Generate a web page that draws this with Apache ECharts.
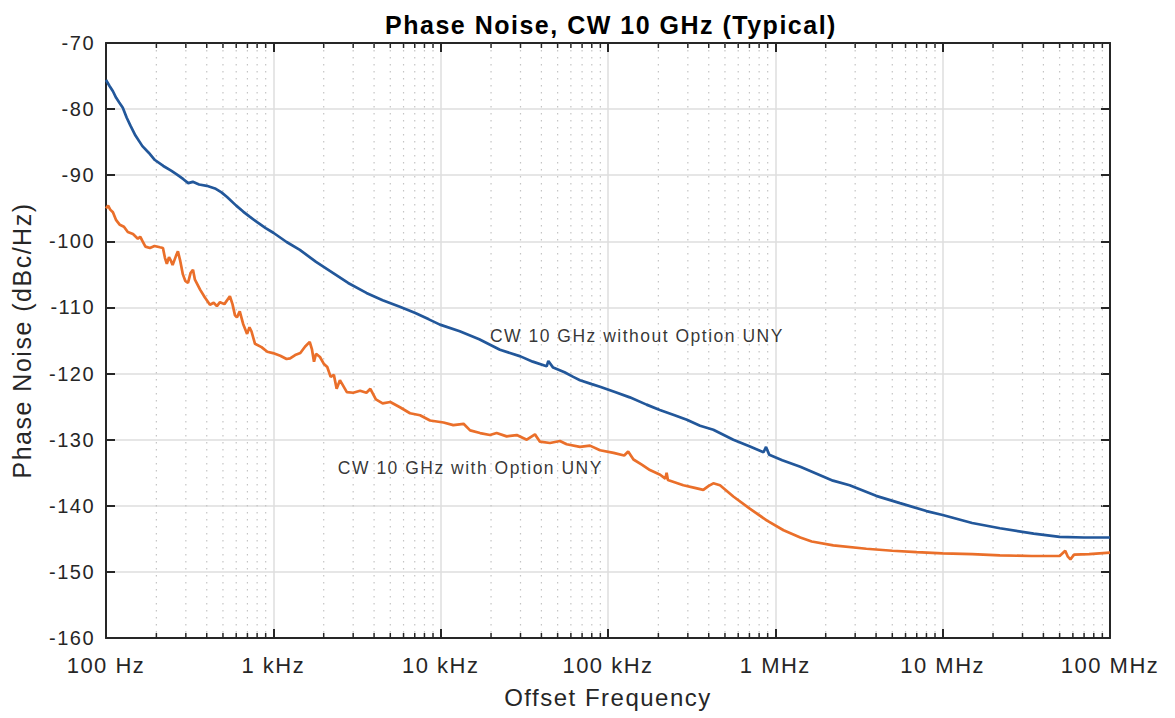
<!DOCTYPE html>
<html>
<head>
<meta charset="utf-8">
<title>Phase Noise, CW 10 GHz</title>
<script src="https://cdn.jsdelivr.net/npm/echarts@6/dist/echarts.min.js"></script>
<style>
  html, body { margin: 0; padding: 0; background: #fff; }
  #chart { width: 1175px; height: 718px; }
  #chart svg text { letter-spacing: 1.5px; }
</style>
</head>
<body>
<div id="chart"></div>
<script>
// offset frequency (Hz) and phase noise (dBc/Hz)
const freqNoUny = [100, 105, 110, 115, 120, 126, 133, 140, 150, 165, 180, 196, 220, 245, 266, 290, 310, 330, 360, 400, 448, 490, 529, 600, 660, 725, 800, 900, 1000, 1200, 1440, 1800, 2280, 2800, 3600, 4500, 5700, 7000, 8500, 9900, 13000, 17000, 22600, 30000, 35500, 43000, 44000, 47000, 55000, 62000, 68000, 80000, 89600, 110000, 135000, 170000, 204000, 250000, 296000, 355000, 426000, 561000, 700000, 850000, 880000, 920000, 1100000, 1410000, 2210000, 2780000, 4000000, 5560000, 8000000, 10000000, 15000000, 22000000, 35000000, 50000000, 70000000, 100000000];
const noiseNoUny = [-75.6, -76.5, -77.3, -78.3, -79.0, -79.8, -81.3, -82.5, -84.0, -85.6, -86.6, -87.7, -88.6, -89.3, -89.9, -90.6, -91.2, -91.0, -91.4, -91.6, -92.0, -92.6, -93.3, -94.6, -95.5, -96.3, -97.1, -98.0, -98.7, -100.1, -101.3, -103.1, -104.8, -106.3, -107.8, -108.9, -109.9, -110.8, -111.8, -112.6, -113.6, -114.8, -116.4, -117.4, -118.2, -118.9, -118.1, -119.1, -119.8, -120.5, -121.0, -121.6, -122.0, -122.8, -123.6, -124.7, -125.5, -126.3, -127.0, -127.9, -128.5, -130.0, -131.0, -131.9, -131.1, -132.3, -133.1, -134.1, -136.2, -136.9, -138.5, -139.6, -140.8, -141.4, -142.6, -143.4, -144.2, -144.7, -144.8, -144.8];

const freqUny = [100, 103, 106, 110, 115, 121, 128, 135, 145, 155, 160, 164, 172, 183, 195, 210, 219, 225, 231, 238, 245, 250, 262, 269, 278, 288, 298, 309, 320, 331, 340, 365, 390, 418, 440, 460, 480, 510, 550, 570, 590, 606, 630, 660, 697, 720, 740, 777, 850, 920, 995, 1100, 1200, 1260, 1350, 1450, 1550, 1650, 1700, 1750, 1800, 1900, 2000, 2100, 2200, 2300, 2390, 2500, 2750, 3000, 3300, 3600, 3800, 4100, 4500, 5000, 5710, 6560, 7530, 8640, 10400, 11900, 13700, 15000, 17200, 19700, 21600, 24800, 28500, 32700, 36600, 39200, 45000, 51600, 56600, 68000, 78000, 89600, 108000, 125000, 132000, 142000, 160000, 178000, 205000, 220000, 224000, 228000, 282000, 330000, 371000, 400000, 426000, 467000, 561000, 700000, 887000, 1120000, 1410000, 1650000, 2220000, 3500000, 5000000, 7000000, 10000000, 15000000, 22000000, 34000000, 50000000, 54000000, 56000000, 58000000, 61000000, 75000000, 100000000];
const noiseUny = [-95.0, -94.6, -95.2, -95.6, -96.8, -97.5, -97.8, -98.6, -98.9, -99.6, -99.3, -99.8, -100.8, -101.0, -100.7, -100.9, -101.0, -102.5, -103.4, -102.4, -103.0, -103.6, -102.2, -101.5, -103.0, -105.0, -106.0, -106.3, -104.8, -104.3, -105.8, -107.3, -108.5, -109.6, -109.3, -109.8, -109.2, -109.5, -108.3, -109.5, -111.2, -111.5, -110.6, -112.5, -114.0, -113.0, -113.6, -115.5, -116.0, -116.7, -116.9, -117.3, -117.8, -117.7, -117.2, -116.9, -115.9, -115.2, -116.3, -118.2, -117.0, -117.5, -118.5, -119.0, -120.5, -120.2, -122.3, -121.0, -122.8, -122.9, -122.6, -122.9, -122.3, -123.9, -124.5, -124.3, -125.1, -126.0, -126.3, -127.1, -127.4, -127.8, -127.6, -128.6, -129.0, -129.3, -129.0, -129.5, -129.3, -130.0, -129.2, -130.3, -130.5, -130.2, -130.7, -131.1, -130.9, -131.6, -132.0, -132.4, -131.8, -133.0, -133.8, -134.6, -135.3, -135.9, -135.0, -136.1, -136.9, -137.3, -137.6, -137.0, -136.6, -136.9, -138.6, -140.4, -142.2, -143.7, -144.8, -145.4, -146.0, -146.5, -146.8, -147.0, -147.2, -147.3, -147.5, -147.6, -147.6, -146.8, -147.7, -148.1, -147.4, -147.3, -147.1];

const decadeLabels = { 100: '100 Hz', 1000: '1 kHz', 10000: '10 kHz', 100000: '100 kHz', 1000000: '1 MHz', 10000000: '10 MHz', 100000000: '100 MHz' };

// curve annotations: [freq, dB, text]
const notes = [
  [19700, -114.3, 'CW 10 GHz without Option UNY'],
  [2430, -134.3, 'CW 10 GHz with Option UNY']
];

// minor log grid positions 2..9 per decade
const minorFreqs = [];
for (let d = 100; d < 1e8; d *= 10) {
  for (let k = 2; k <= 9; k++) minorFreqs.push([k * d]);
}

const chart = echarts.init(document.getElementById('chart'), null, { renderer: 'svg' });
const font = 'Liberation Sans, Arial, Helvetica, sans-serif';
const axisColor = '#262626';

chart.setOption({
  animation: false,
  title: {
    text: 'Phase Noise, CW 10 GHz (Typical)',
    left: 606, top: 7, textAlign: 'center',
    textStyle: { fontFamily: font, fontSize: 25, fontWeight: 'bold', color: '#000' }
  },
  grid: { left: 106, right: 65, top: 43, bottom: 80 },
  xAxis: [{
    type: 'log', logBase: 10, min: 100, max: 1e8, position: 'bottom',
    name: 'Offset Frequency', nameLocation: 'middle', nameGap: 47,
    nameTextStyle: { fontFamily: font, fontSize: 24, color: axisColor },
    axisLine: { lineStyle: { color: axisColor, width: 2 } },
    axisTick: { inside: true, length: 9, lineStyle: { color: axisColor, width: 2 } },
    axisLabel: { fontFamily: font, fontSize: 22, color: axisColor, margin: 16,
      formatter: v => decadeLabels[Math.round(v)] || '' },
    splitLine: { show: true, lineStyle: { color: '#dedede', width: 1.5 } }
  }, {
    type: 'log', logBase: 10, min: 100, max: 1e8, position: 'top',
    axisLine: { lineStyle: { color: axisColor, width: 2 } },
    axisTick: { inside: true, length: 9, lineStyle: { color: axisColor, width: 2 } },
    axisLabel: { show: false }, splitLine: { show: false }
  }],
  yAxis: [{
    type: 'value', min: -160, max: -70, interval: 10, position: 'left',
    name: 'Phase Noise (dBc/Hz)', nameLocation: 'middle', nameGap: 72,
    nameTextStyle: { fontFamily: font, fontSize: 25, color: axisColor },
    axisLine: { show: true, lineStyle: { color: axisColor, width: 2 } },
    axisTick: { show: true, inside: true, length: 9, lineStyle: { color: axisColor, width: 2 } },
    axisLabel: { fontFamily: font, fontSize: 20, color: axisColor, margin: 11 },
    splitLine: { show: true, lineStyle: { color: '#dedede', width: 1.5 } }
  }, {
    type: 'value', min: -160, max: -70, interval: 10, position: 'right',
    axisLine: { show: true, lineStyle: { color: axisColor, width: 2 } },
    axisTick: { show: true, inside: true, length: 9, lineStyle: { color: axisColor, width: 2 } },
    axisLabel: { show: false }, splitLine: { show: false }
  }],
  series: [{
    type: 'custom', silent: true, z: 1,
    data: minorFreqs,
    encode: { x: 0 },
    renderItem: (params, api) => {
      const top = api.coord([api.value(0), -70]);
      const bot = api.coord([api.value(0), -160]);
      return {
        type: 'group',
        children: [{
          type: 'line',
          shape: { x1: top[0], y1: top[1], x2: bot[0], y2: bot[1] },
          style: { stroke: '#c4c4c4', lineWidth: 1.2, lineDash: [1.5, 5.5] }
        }, {
          type: 'line',
          shape: { x1: top[0], y1: top[1], x2: top[0], y2: top[1] + 5 },
          style: { stroke: axisColor, lineWidth: 1.5 }
        }, {
          type: 'line',
          shape: { x1: bot[0], y1: bot[1], x2: bot[0], y2: bot[1] - 5 },
          style: { stroke: axisColor, lineWidth: 1.5 }
        }]
      };
    }
  }, {
    name: 'CW 10 GHz without Option UNY',
    type: 'line', showSymbol: false, z: 3,
    data: freqNoUny.map((f, i) => [f, noiseNoUny[i]]),
    lineStyle: { color: '#22579a', width: 2.7 },
    itemStyle: { color: '#22579a' }
  }, {
    name: 'CW 10 GHz with Option UNY',
    type: 'line', showSymbol: false, z: 3,
    data: freqUny.map((f, i) => [f, noiseUny[i]]),
    lineStyle: { color: '#ea6f2a', width: 2.7 },
    itemStyle: { color: '#ea6f2a' }
  }, {
    type: 'scatter', symbolSize: 0, silent: true, z: 4,
    data: notes,
    label: {
      show: true, position: 'right', distance: 0,
      formatter: p => p.value[2],
      fontFamily: font, fontSize: 17.5, color: '#000'
    }
  }]
});
</script>
</body>
</html>
